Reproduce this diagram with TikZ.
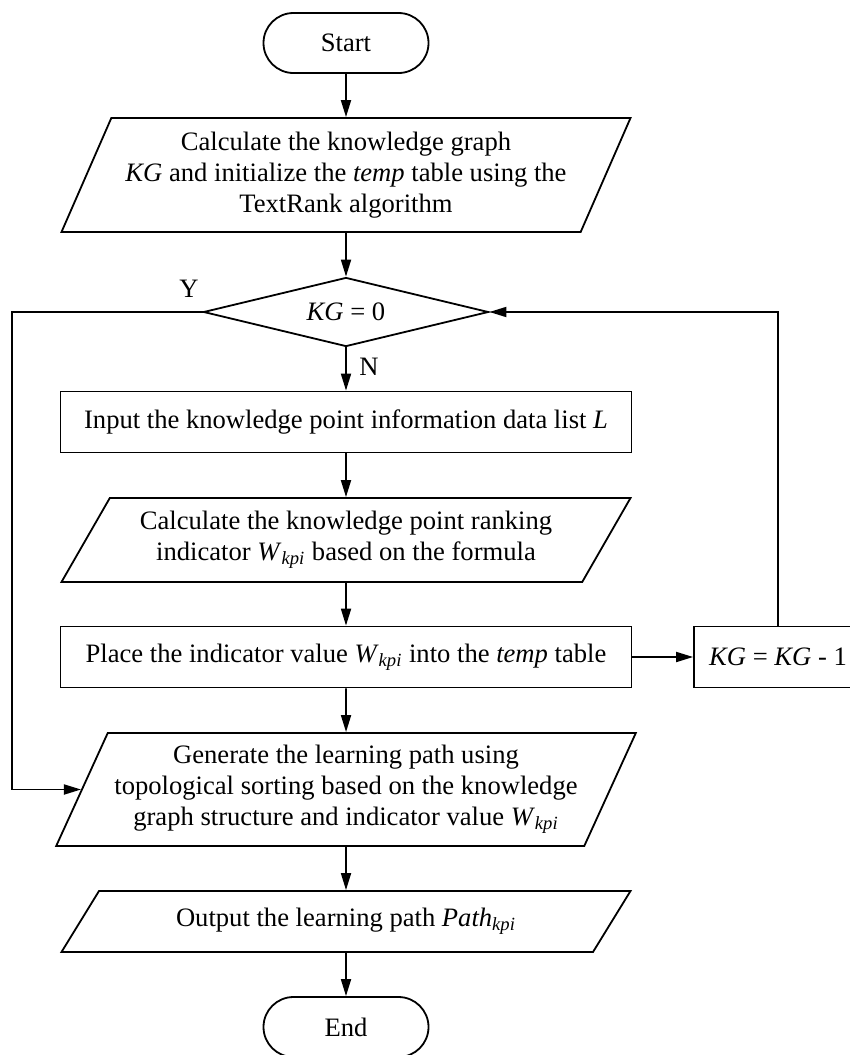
\documentclass[tikz,border=0pt]{standalone}
\usepackage{fontspec}
\setmainfont{Liberation Serif}
\usepackage{tikz}
\usetikzlibrary{shapes,arrows,positioning,calc,arrows.meta}
\newcommand{\Wkpi}{\textit{W}\textsubscript{\textit{kpi}}}

\begin{document}
\begin{tikzpicture}[x=0.5pt, y=-0.5pt,
    font=\fontsize{13.3}{15.5}\selectfont,
    term/.style={draw, line width=0.9pt, rectangle, rounded corners=15pt, minimum width=82.5pt, minimum height=30pt},
    proc/.style={draw, line width=0.9pt, rectangle, minimum width=285.5pt, minimum height=30.5pt},
    io/.style={draw, line width=0.9pt, trapezium, trapezium stretches body, minimum width=284.5pt, align=center},
    dec/.style={draw, line width=0.9pt, diamond, aspect=4, minimum width=142.5pt, minimum height=34.5pt, inner sep=1pt},
    arr/.style={-{Triangle[width=5pt,length=8.5pt]}, line width=0.9pt}]
    \useasboundingbox (0,0) rectangle (850,1055); % page size

    \node [term] (start) at (346,43) {Start};
    \node [io, trapezium left angle=63.4, trapezium right angle=116.6, minimum height=57pt] (calc) at (346,175)
        {Calculate the knowledge graph\\ \textit{KG} and initialize the \textit{temp} table using the\\ TextRank algorithm};
    \node [dec] (zero) at (346,312) {\textit{KG} = 0}; % loop test
    \node [proc] (input) at (346,422) {Input the knowledge point information data list \textit{L}};
    \node [io, trapezium left angle=55.8, trapezium right angle=124.2, minimum height=42pt] (rank) at (346,540)
        {Calculate the knowledge point ranking\\ indicator \Wkpi{} based on the formula};
    \node [proc] (place) at (346,657) {Place the indicator value \Wkpi{} into the \textit{temp} table};
    \node [proc, minimum width=84pt] (minus) at (778,657) {\textit{KG} = \textit{KG} - 1};
    \node [io, trapezium left angle=63.2, trapezium right angle=116.8, minimum height=56.5pt] (path) at (346,789.5)
        {Generate the learning path using\\ topological sorting based on the knowledge\\ graph structure and indicator value \Wkpi};
    \node [io, trapezium left angle=46.9, trapezium right angle=133.1, minimum height=30.5pt] (output) at (346,921.5)
        {Output the learning path \textit{Path}\textsubscript{\textit{kpi}}};
    \node [term] (end) at (346,1027) {End};

    \node (ylabel) at (189,289) {Y};
    \node (nlabel) at (369,367) {N};
    \coordinate (yturn) at (12,312);

    \draw [arr] (start) -- (calc);
    \draw [arr] (calc) -- (zero);
    \draw [arr] (zero) -- (input);
    \draw [arr] (input) -- (rank);
    \draw [arr] (rank) -- (place);
    \draw [arr] (place) -- (minus);
    \draw [arr] (minus) |- (zero); % back to the test
    \draw [arr] (place) -- (path);
    \draw [arr] (zero) -- (yturn) |- (path); % Y branch
    \draw [arr] (path) -- (output);
    \draw [arr] (output) -- (end);
\end{tikzpicture}
\end{document}
